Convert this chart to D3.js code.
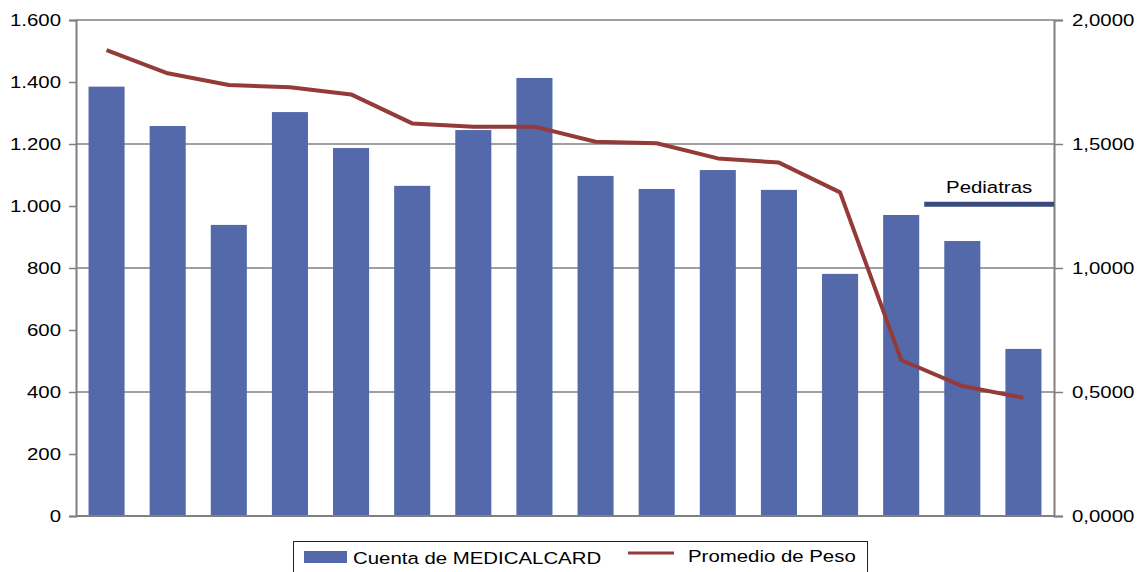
<html>
<head>
<script src="https://d3js.org/d3.v7.min.js"></script>
<style>
  body { margin: 0; background: #fff; }
  svg text { font-family: "Liberation Sans", Arial, sans-serif; font-size: 17px; fill: #000; }
</style>
</head>
<body>
<script>
var categories = ["1","2","3","4","5","6","7","8","9","10","11","12","13","14","15","16"];
var cuenta = [1385, 1258, 939, 1303, 1187, 1065, 1245, 1413, 1097, 1055, 1116, 1052, 781, 971, 887, 539];
var promedio = [1.879, 1.785, 1.738, 1.729, 1.700, 1.583, 1.570, 1.570, 1.509, 1.503, 1.442, 1.425, 1.305, 0.629, 0.524, 0.477];
var leftTicks = [0, 200, 400, 600, 800, 1000, 1200, 1400, 1600];
var rightTicks = [0, 0.5, 1.0, 1.5, 2.0];
var gridTicks = [400, 800, 1200, 1600];
var pediatras = { label: "Pediatras", after: 13, value: 1.257 };

var width = 1140, height = 572;
var plotLeft = 76, plotRight = 1054, plotTop = 20, plotBottom = 516;
var stretch = "scale(1.2,1)";

var svg = d3.select("body").append("svg")
   .attr("width", width)
   .attr("height", height);

var x = d3.scaleBand().domain(categories).range([plotLeft, plotRight])
   .paddingInner(0.41).paddingOuter(0.205);
var yL = d3.scaleLinear().domain([0, 1600]).range([plotBottom, plotTop]);
var yR = d3.scaleLinear().domain([0, 2]).range([plotBottom, plotTop]);

// grid
svg.selectAll(".grid").data(gridTicks).enter().append("line")
   .attr("x1", plotLeft).attr("x2", plotRight)
   .attr("y1", function(d) { return yL(d); })
   .attr("y2", function(d) { return yL(d); })
   .style("stroke", "#808080").style("stroke-width", 1.5);

// bars
svg.selectAll(".bar").data(cuenta).enter().append("rect")
   .attr("x", function(d, i) { return x(categories[i]); })
   .attr("y", function(d) { return yL(d); })
   .attr("width", x.bandwidth())
   .attr("height", function(d) { return plotBottom - yL(d); })
   .style("fill", "#5369aa");

// line
var line = d3.line()
   .x(function(d, i) { return x(categories[i]) + x.bandwidth() / 2; })
   .y(function(d) { return yR(d); });
svg.append("path").datum(promedio)
   .attr("d", line)
   .style("fill", "none")
   .style("stroke", "#943a38")
   .style("stroke-width", 4)
   .style("stroke-linejoin", "round");

// axes
var axL = svg.append("g").attr("transform", "translate(" + plotLeft + ",0)")
   .call(d3.axisLeft(yL).tickValues(leftTicks).tickSize(7).tickPadding(5.5)
      .tickFormat(function(d) { return d3.format(",")(d).replace(/,/g, "."); }));
var axR = svg.append("g").attr("transform", "translate(" + plotRight + ",0)")
   .call(d3.axisRight(yR).tickValues(rightTicks).tickSize(9).tickPadding(6)
      .tickFormat(function(d) { return d3.format(".4f")(d).replace(".", ","); }));
[axL, axR].forEach(function(ax) {
   ax.select(".domain").style("stroke", "#808080").style("stroke-width", 2);
   ax.selectAll(".tick line").style("stroke", "#808080").style("stroke-width", 1.5);
   ax.selectAll(".tick text").style("font-size", "17px")
      .style("font-family", "'Liberation Sans', Arial, sans-serif")
      .attr("fill", "#000").attr("transform", stretch);
});

// x axis baseline
svg.append("line")
   .attr("x1", plotLeft).attr("x2", plotRight)
   .attr("y1", plotBottom).attr("y2", plotBottom)
   .style("stroke", "#808080").style("stroke-width", 2);

// Pediatras marker
var px = x(categories[pediatras.after]) + x.bandwidth() + 5;
svg.append("line")
   .attr("x1", px).attr("x2", plotRight)
   .attr("y1", yR(pediatras.value)).attr("y2", yR(pediatras.value))
   .style("stroke", "#3a4a7c").style("stroke-width", 5);
var pcx = (px + plotRight) / 2;
svg.append("text")
   .attr("x", 0).attr("y", 0)
   .attr("text-anchor", "middle")
   .attr("transform", "translate(" + pcx + "," + (yR(pediatras.value) - 11) + ") " + stretch)
   .text(pediatras.label);

// legend
var lg = svg.append("g");
lg.append("rect").attr("x", 293.5).attr("y", 541.5).attr("width", 574).attr("height", 40)
   .style("fill", "#fff").style("stroke", "#222").style("stroke-width", 1);
lg.append("rect").attr("x", 304).attr("y", 551).attr("width", 43).attr("height", 12)
   .style("fill", "#5369aa");
lg.append("text").attr("transform", "translate(353,564) " + stretch).text("Cuenta de MEDICALCARD");
lg.append("line").attr("x1", 628).attr("x2", 674).attr("y1", 553).attr("y2", 553)
   .style("stroke", "#943a38").style("stroke-width", 3);
lg.append("text").attr("transform", "translate(688,562) " + stretch).text("Promedio de Peso");
</script>
</body>
</html>
